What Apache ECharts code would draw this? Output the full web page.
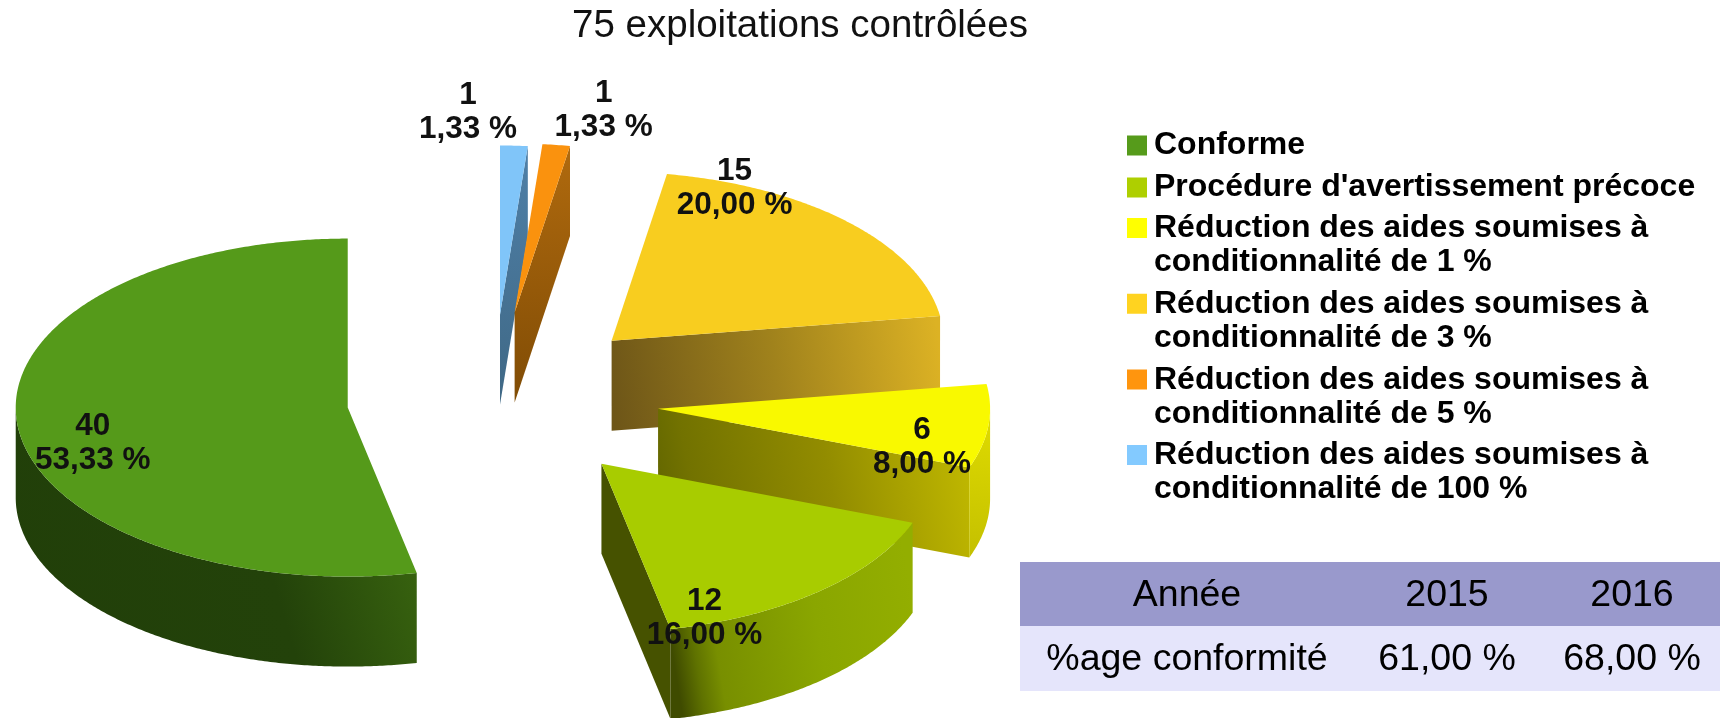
<!DOCTYPE html>
<html><head><meta charset="utf-8">
<style>html,body{margin:0;padding:0;background:#fff}#c{width:1720px;height:718px}</style>
<script src="https://cdn.jsdelivr.net/npm/echarts@6/dist/echarts.min.js"></script>
</head><body><div id="c"></div>
<script>
const titleText = '75 exploitations contrôlées';
const categories = ['Conforme', "Procédure d'avertissement précoce",
  'Réduction des aides soumises à\nconditionnalité de 1 %',
  'Réduction des aides soumises à\nconditionnalité de 3 %',
  'Réduction des aides soumises à\nconditionnalité de 5 %',
  'Réduction des aides soumises à\nconditionnalité de 100 %'];
const values = [40, 12, 6, 15, 1, 1];
const tableYears = ['Année', '2015', '2016'];
const tableRates = ['%age conformité', '61,00 %', '68,00 %'];

// styling
const topColors = ['#559a1a', '#a8cc00', '#f9f900', '#f8cd1f', '#fa920e', '#80c5f9'];
const legendColors = ['#569b1b', '#aecf00', '#ffff00', '#ffd320', '#ff950e', '#83caff'];
const explode = [0.44, 0.5, 0.5, 0.5, 0.52, 0.505];
const sideStops = [
  null,
  [[0, '#465200'], [1, '#465200']],
  [[0, '#626600'], [0.12, '#727200'], [0.55, '#928c00'], [1, '#c0b800']],
  [[0, '#6e5618'], [0.5, '#a0821c'], [1, '#dcb224']],
  [[0, '#804c05'], [1, '#b06a0e']],
  [[0, '#3f6885'], [1, '#4f80a8']]
];
const sideVec = [null, [0, 0, 1, 0], [0, 0.7, 1, 0.3], [0, 0.7, 1, 0.3], [0, 1, 0, 0], [0, 1, 0, 0]];
const arcStops = [
  [[0, '#213f09'], [0.65, '#23420a'], [1, '#38630f']],
  [[0, '#3f4b00'], [0.09, '#5f7200'], [0.18, '#788f00'], [0.6, '#8aa600'], [1, '#93ae00']],
  [[0, '#c4c000'], [1, '#e0dc00']],
  null, null, null
];
const arcVec = [[0, 1, 1, 0.55], [0, 0.6, 1, 0.4], [0, 1, 1, 0], null, null, null];
const labelOffset = [[-255, 36], [103, 155], [264, 39], [123, -152], [89, -202], [-32, -202]];
const drawOrder = [5, 4, 3, 2, 1, 0];
const cx = 493, cy = 399.8, rx = 332, ry = 169, depth = 90, labelFont = 'bold 31.5px "Liberation Sans"';

const total = values.reduce((a, b) => a + b, 0);
const starts = []; let acc = 0;
values.forEach(v => { starts.push(acc / total * 360); acc += v; });
const rad = d => d * Math.PI / 180;
const apexOf = i => {
  const m = rad(starts[i] + values[i] / total * 180), e = explode[i];
  return [cx - Math.sin(m) * e * rx, cy - Math.cos(m) * e * ry];
};
const rim = (a, d, dy) => [a[0] - Math.sin(rad(d)) * rx, a[1] - Math.cos(rad(d)) * ry + dy];
const arcPts = (a, from, to, dy) => {
  const n = Math.max(2, Math.ceil(Math.abs(to - from) * 2)), p = [];
  for (let k = 0; k <= n; k++) p.push(rim(a, from + (to - from) * k / n, dy));
  return p;
};
const grad = (stops, vec) => new echarts.graphic.LinearGradient(vec[0], vec[1], vec[2], vec[3],
  stops.map(s => ({offset: s[0], color: s[1]})));

function renderSlice(i) {
  return function (params, api) {
    const v = api.value(0), a = apexOf(i), s = starts[i], e = s + v / total * 360, ch = [];
    if (Math.sin(rad(s)) < -1e-6) {
      const r = rim(a, s, 0);
      ch.push({type: 'polygon', shape: {points: [a, r, [r[0], r[1] + depth], [a[0], a[1] + depth]]},
        style: {fill: grad(sideStops[i], sideVec[i])}});
    }
    const f = Math.max(s, 90), t = Math.min(e, 270);
    if (t > f) {
      ch.push({type: 'polygon', shape: {points: arcPts(a, f, t, 0).concat(arcPts(a, t, f, depth))},
        style: {fill: grad(arcStops[i], arcVec[i])}});
    }
    ch.push({type: 'polygon', shape: {points: [a].concat(arcPts(a, s, e, 0))}, style: {fill: topColors[i]}});
    ch.push({type: 'text', z2: 100, style: {
      text: v + '\n' + (v / total * 100).toFixed(2).replace('.', ',') + ' %',
      x: a[0] + labelOffset[i][0], y: a[1] + labelOffset[i][1],
      align: 'center', verticalAlign: 'middle', font: labelFont, lineHeight: 34, fill: '#111'}});
    return {type: 'group', children: ch};
  };
}

const series = categories.map((name, i) => ({
  type: 'custom', name, coordinateSystem: 'none', silent: true,
  z: 2 + drawOrder.indexOf(i), clip: false,
  itemStyle: {color: legendColors[i]},
  data: [[values[i]]], renderItem: renderSlice(i)
}));

const shortIcon = 'path://M0 0H20V20H0Z M22 0L22 0Z';
const tallIcon = 'path://M0 0H20V20H0Z M22 55L22 55Z';
const legendText = {fontFamily: 'Liberation Sans', fontWeight: 'bold', fontSize: 32, color: '#000', lineHeight: 34};
const legendBase = {orient: 'vertical', left: 1127, padding: 0, align: 'left', selectedMode: false, itemWidth: 22,
  textStyle: legendText, itemStyle: {borderWidth: 0}};

const colX = [1187, 1447, 1632];
const cellFont = '37.5px "Liberation Sans"';
const tableGraphics = [
  {type: 'rect', left: 1020, top: 562, shape: {width: 700, height: 64}, style: {fill: '#9999cc'}},
  {type: 'rect', left: 1020, top: 626, shape: {width: 700, height: 65}, style: {fill: '#e5e5fb'}}
];
[[tableYears, 596], [tableRates, 660]].forEach(([row, y]) => row.forEach((t, i) => tableGraphics.push({
  type: 'text', x: colX[i], y, style: {text: t, font: cellFont, fill: '#000', align: 'center', verticalAlign: 'middle'}
})));

const chart = echarts.init(document.getElementById('c'), null, {renderer: 'canvas'});
chart.setOption({
  animation: false,
  backgroundColor: '#fff',
  title: {text: titleText, left: 800, top: 7, textAlign: 'center', padding: 0,
    textStyle: {fontFamily: 'Liberation Sans', fontWeight: 'normal', fontSize: 38.5, color: '#111'}},
  legend: [
    Object.assign({}, legendBase, {top: 128.5, itemHeight: 20, itemGap: 8,
      data: categories.slice(0, 2).map(name => ({name, icon: shortIcon}))}),
    Object.assign({}, legendBase, {top: 211.5, itemHeight: 55, itemGap: 7.7,
      data: categories.slice(2).map(name => ({name, icon: tallIcon}))})
  ],
  graphic: tableGraphics,
  series
});
</script></body></html>
